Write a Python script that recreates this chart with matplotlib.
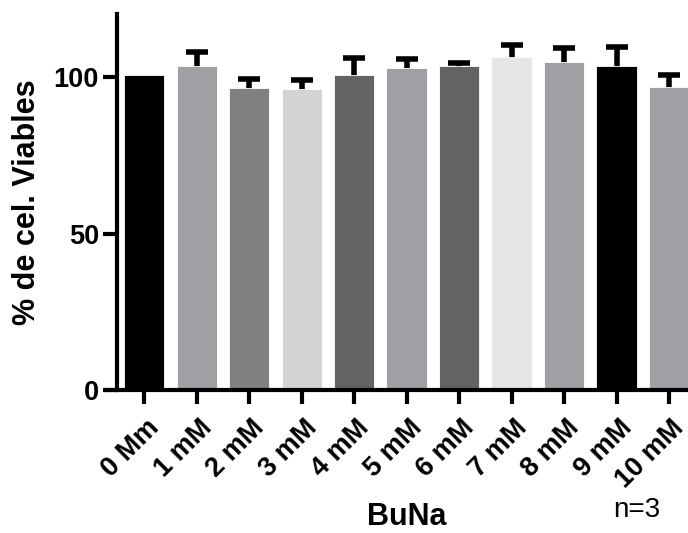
import matplotlib
matplotlib.use("Agg")
import matplotlib.pyplot as plt
import matplotlib.transforms as mtransforms

plt.rcParams['font.family'] = ['Liberation Sans', 'DejaVu Sans']

## valores (% de celulas viables, n=3)
labels = ["0 Mm", "1 mM", "2 mM", "3 mM", "4 mM", "5 mM", "6 mM", "7 mM", "8 mM", "9 mM", "10 mM"]
means = [100.5, 103.4, 96.6, 96.2, 100.8, 102.9, 103.4, 106.3, 104.8, 103.4, 96.8]
errors = [0.0, 4.7, 2.9, 2.8, 5.4, 2.7, 1.2, 3.9, 4.4, 6.3, 3.9]
colors = ["#000000", "#a0a0a4", "#808080", "#d4d4d4", "#636363", "#a0a0a4",
          "#636363", "#e6e6e6", "#a0a0a4", "#000000", "#a0a0a4"]

fig = plt.figure(figsize=(6.88, 5.33), dpi=100)
ax = fig.add_axes([0.170, 0.268, 0.830, 0.705])

x = list(range(len(labels)))
## the bars hide the lower half of the error bars, like in prism
ax.bar(x, means, width=0.77, color=colors, edgecolor="white", linewidth=0.6, zorder=2)
ex = [i for i in x if errors[i] > 0]
ax.errorbar(ex, [means[i] for i in ex], yerr=[errors[i] for i in ex], fmt="none",
            ecolor="black", elinewidth=4, capsize=8, capthick=4, zorder=1.9)

ax.set_xlim(-0.52, 10.36)
ax.set_ylim(0, 120)
ax.set_yticks([0, 50, 100])
ax.set_xticks(x)
ax.set_xticklabels(labels, rotation=45, ha="right", rotation_mode="anchor")

for s in ["top", "right"]:
    ax.spines[s].set_visible(False)
for s in ["left", "bottom"]:
    ax.spines[s].set_linewidth(3)
    ax.spines[s].set_zorder(3)
ax.spines["bottom"].set_bounds(-0.71, 10.36)

ax.tick_params(axis="both", width=3, length=10, labelsize=19.5, pad=3)
shift = mtransforms.ScaledTranslation(2 / 100, -7 / 100, fig.dpi_scale_trans)
for t in ax.get_xticklabels():
    t.set_transform(t.get_transform() + shift)
for t in ax.get_xticklabels() + ax.get_yticklabels():
    t.set_fontweight("bold")

ax.set_ylabel("% de cel. Viables", fontsize=22, fontweight="bold", labelpad=8)
fig.text(0.591, 0.002, "BuNa", fontsize=22, fontweight="bold", ha="center", va="bottom")
fig.text(0.926, 0.043, "n=3", fontsize=20, ha="center", va="center")

plt.savefig("out.png", dpi=100)
